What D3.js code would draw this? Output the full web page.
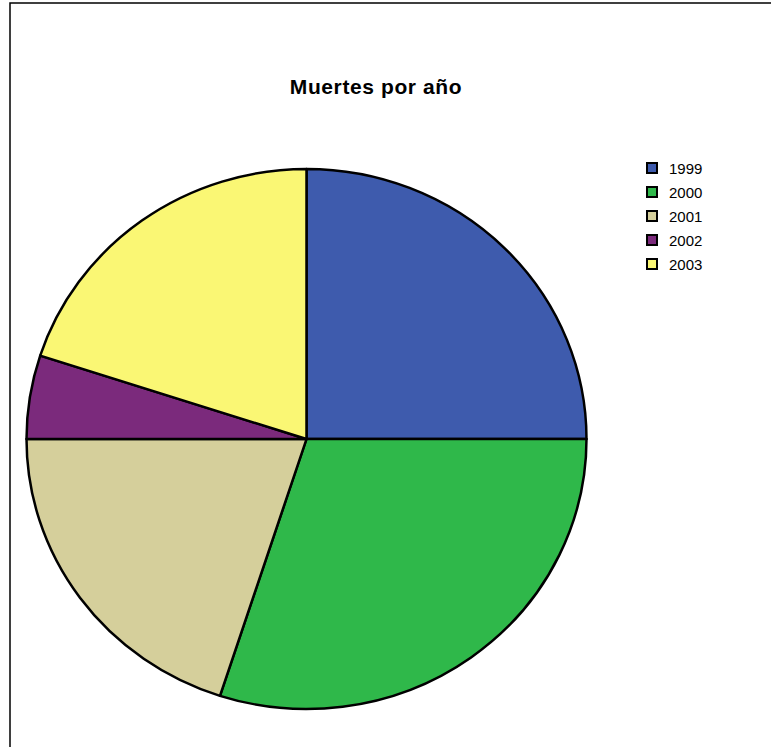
<!DOCTYPE html>
<html>
<head>
<meta charset="utf-8">
<script src="https://cdn.jsdelivr.net/npm/d3@7"></script>
<style>
  html, body { margin: 0; padding: 0; background: #fff; }
  svg { display: block; }
</style>
</head>
<body>
<svg id="chart" width="771" height="747"></svg>
<script>
// Deaths per year
const years = ["1999", "2000", "2001", "2002", "2003"];
const deaths = [25, 30, 20, 5, 20];
const colors = ["#3e5bad", "#2fb84a", "#d5cf9b", "#7b2a7c", "#faf774"];
const title = "Muertes por año";

const svg = d3.select("#chart");

// outer frame
svg.append("rect")
  .attr("x", 10).attr("y", 3)
  .attr("width", 900).attr("height", 900)
  .attr("fill", "none").attr("stroke", "#000").attr("stroke-width", 1.5);

svg.append("text")
  .attr("x", 376).attr("y", 94)
  .attr("text-anchor", "middle")
  .attr("font-family", "Liberation Sans, Arial, sans-serif")
  .attr("font-weight", "bold")
  .attr("font-size", 21)
  .attr("letter-spacing", 0.6)
  .text(title);

const data = years.map((y, i) => ({ year: y, value: deaths[i], color: colors[i] }));

const pie = d3.pie().sort(null).value(d => d.value);
const rx = 280, ry = 270;
const arc = d3.arc().innerRadius(0).outerRadius(rx);

const g = svg.append("g")
  .attr("transform", `translate(306.5,439) scale(1,${ry / rx})`);

g.selectAll("path")
  .data(pie(data))
  .join("path")
  .attr("d", arc)
  .attr("fill", d => d.data.color)
  .attr("stroke", "#000")
  .attr("stroke-width", 2.5)
  .attr("stroke-linejoin", "round");

// legend
const legend = svg.append("g").attr("transform", "translate(647,168)");
const rows = legend.selectAll("g")
  .data(data)
  .join("g")
  .attr("transform", (d, i) => `translate(0,${i * 24})`);

rows.append("rect")
  .attr("x", 0).attr("y", -5)
  .attr("width", 10).attr("height", 10)
  .attr("fill", d => d.color)
  .attr("stroke", "#000").attr("stroke-width", 2);

rows.append("text")
  .attr("x", 22).attr("y", 5.5)
  .attr("font-family", "Liberation Sans, Arial, sans-serif")
  .attr("font-size", 15)
  .text(d => d.year);
</script>
</body>
</html>
